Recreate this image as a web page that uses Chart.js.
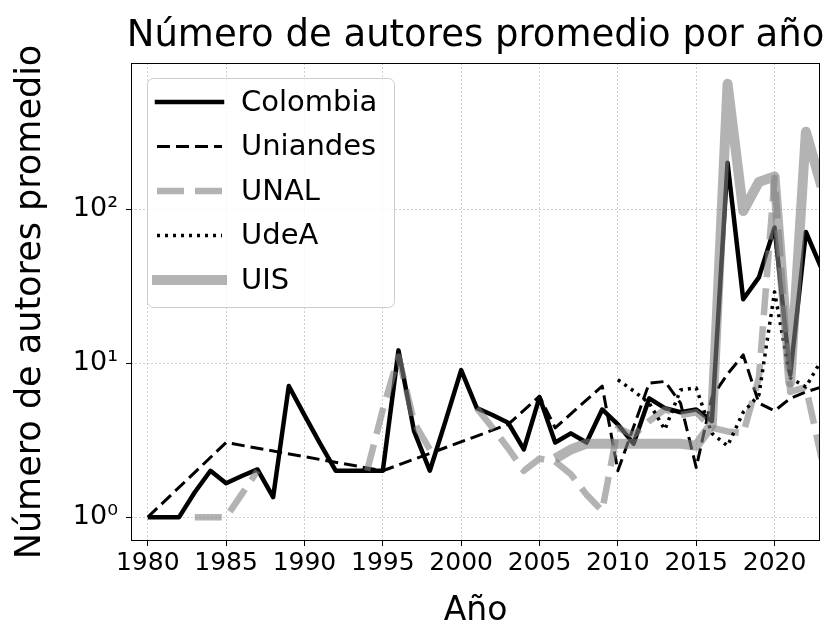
<!DOCTYPE html>
<html>
<head>
<meta charset="utf-8">
<script src="https://cdn.jsdelivr.net/npm/chart.js@4"></script>
<style>
  html, body { margin: 0; padding: 0; background: #fff; }
  #wrap { width: 823px; height: 633px; }
</style>
</head>
<body>
<div id="wrap"><canvas id="authorsChart" width="823" height="633"></canvas></div>
<script>
// Años (eje x)
const years = [1980, 1981, 1982, 1983, 1984, 1985, 1986, 1987, 1988, 1989,
               1990, 1991, 1992, 1993, 1994, 1995, 1996, 1997, 1998, 1999,
               2000, 2001, 2002, 2003, 2004, 2005, 2006, 2007, 2008, 2009,
               2010, 2011, 2012, 2013, 2014, 2015, 2016, 2017, 2018, 2019,
               2020, 2021, 2022, 2023];

// Número de autores promedio por año (null = sin dato)
const colombia = [1, 1, 1, 1.45, 2.0, 1.66, 1.85, 2.04, 1.35, 7.1,
                  4.6, 3.0, 2.0, 2.0, 2.0, 2.0, 12.1, 3.6, 2.0, 4.2,
                  9.0, 5.1, 4.6, 4.1, 2.75, 6.0, 3.05, 3.5, 3.05, 5.0,
                  4.0, 3.0, 5.9, 5.1, 4.8, 5.0, 4.2, 200, 26, 36,
                  76, 8.4, 71, 41];
const uniandes = [1, null, null, null, null, 3.05, null, null, null, null,
                  null, null, null, null, null, 2.0, null, null, null, null,
                  null, null, null, 4.0, null, 6.1, 3.8, null, null, 7.1,
                  2.0, null, 7.4, 7.6, 5.5, 2.1, 6.0, 8.5, 11.3, 5.5,
                  4.9, 5.9, 6.5, 7.0];
const unal = [null, null, null, 1, 1, 1, 1.41, 2.0, null, null,
              null, null, null, null, 2.0, 5.0, 11, 4.1, 2.75, null,
              null, 5.1, 3.8, 2.8, 2.0, 2.4, 2.3, 1.9, 1.4, 1.1,
              3.8, 3.4, 4.2, 5.0, 4.6, 4.8, 3.8, 3.6, 3.5, 8.0,
              160, 6.5, 7.0, 2.4];
const udea = [null, null, null, null, null, null, null, null, null, null,
              null, null, null, null, null, null, null, null, null, null,
              null, null, null, null, null, null, null, null, null, null,
              7.8, 6.6, 5.5, 3.7, 6.7, 6.9, 3.5, 2.9, 4.8, 6.2,
              29, 8.0, 7.0, 10.5];
const uis = [null, null, null, null, null, null, null, null, null, null,
             null, null, null, null, null, null, null, null, null, null,
             null, null, null, null, null, null, 2.4, 2.75, 3.0, 3.0,
             3.0, 3.0, 3.0, 3.0, 3.0, 2.9, 4.0, 650, 97, 150,
             163, 7.5, 318, 140];

const xTicks = [1980, 1985, 1990, 1995, 2000, 2005, 2010, 2015, 2020];
const yTicks = [1, 10, 100];
const yTickLabels = ["10⁰", "10¹", "10²"];

const chartTitle = "Número de autores promedio por año";
const FONT = "'DejaVu Sans', sans-serif";
const GRAY = "rgba(128, 128, 128, 0.6)";

const series = [
    { label: "Colombia", values: colombia, color: "#000000", width: 4.5, dash: [], gaps: true },
    { label: "Uniandes", values: uniandes, color: "#000000", width: 3, dash: [13, 6], gaps: true },
    { label: "UNAL", values: unal, color: GRAY, width: 6.5, dash: [27, 11], gaps: false },
    { label: "UdeA", values: udea, color: "#000000", width: 3.5, dash: [3, 5], gaps: true },
    { label: "UIS", values: uis, color: GRAY, width: 10, dash: [], gaps: true },
];

// Marco, título y leyenda dibujados a mano
const decorPlugin = {
    id: "decor",
    afterDraw(chart) {
        const { ctx, chartArea: a } = chart;
        ctx.save();
        ctx.strokeStyle = "#000";
        ctx.lineWidth = 1;
        ctx.setLineDash([]);
        ctx.strokeRect(a.left + 0.5, a.top + 0.5, a.right - a.left - 1, a.bottom - a.top - 1);

        ctx.fillStyle = "#000";
        ctx.font = "37px " + FONT;
        ctx.textAlign = "center";
        ctx.textBaseline = "alphabetic";
        ctx.fillText(chartTitle, (a.left + a.right) / 2, 46);

        // leyenda
        const lx = 147, ly = 78, lw = 247, lh = 229;
        ctx.beginPath();
        ctx.roundRect(lx + 0.5, ly + 0.5, lw, lh, 6);
        ctx.fillStyle = "rgba(255,255,255,0.8)";
        ctx.fill();
        ctx.strokeStyle = "#cccccc";
        ctx.lineWidth = 1;
        ctx.stroke();

        series.forEach((s, i) => {
            const y = 102 + i * 44.5;
            ctx.beginPath();
            ctx.setLineDash(s.dash);
            ctx.lineWidth = s.width;
            ctx.strokeStyle = s.color;
            ctx.lineCap = s.dash.length ? "butt" : "square";
            ctx.moveTo(157, y);
            ctx.lineTo(222, y);
            ctx.stroke();
            ctx.setLineDash([]);
            ctx.fillStyle = "#000";
            ctx.font = "29px " + FONT;
            ctx.textAlign = "left";
            ctx.textBaseline = "middle";
            ctx.fillText(s.label, 241, y + 1);
        });
        ctx.restore();
    },
};

const ctx = document.getElementById("authorsChart");
const chart = new Chart(ctx.getContext("2d"), {
    type: "line",
    data: {
        datasets: series.map((s, i) => ({
            label: s.label,
            data: years.map((yr, j) => ({ x: yr, y: s.values[j] })),
            borderColor: s.color,
            borderWidth: s.width,
            borderDash: s.dash,
            borderJoinStyle: "round",
            pointRadius: 0,
            tension: 0,
            fill: false,
            spanGaps: s.gaps,
            clip: 0,
            order: series.length - 1 - i,
        })),
    },
    options: {
        responsive: false,
        animation: false,
        devicePixelRatio: 1,
        layout: { padding: { top: 63, right: 3, left: 0, bottom: 0 } },
        plugins: {
            legend: { display: false },
            tooltip: { enabled: false },
            title: { display: false },
        },
        scales: {
            x: {
                type: "linear",
                min: 1978.93,
                max: 2022.9,
                afterBuildTicks: (scale) => { scale.ticks = xTicks.map((v) => ({ value: v })); },
                afterFit: (scale) => { scale.height = 92; },
                ticks: {
                    color: "#000",
                    font: { family: FONT, size: 25 },
                    padding: 2,
                    maxRotation: 0,
                    autoSkip: false,
                    callback: (v) => String(v),
                },
                grid: { color: "#cfcfcf", lineWidth: 1, tickColor: "#000", tickLength: 5 },
                border: { display: false, dash: [2, 2] },
                title: {
                    display: true,
                    text: "Año",
                    color: "#000",
                    font: { family: FONT, size: 33 },
                    padding: { top: 0, bottom: 2 },
                },
            },
            y: {
                type: "logarithmic",
                min: 0.732,
                max: 888,
                afterBuildTicks: (scale) => { scale.ticks = yTicks.map((v) => ({ value: v })); },
                afterFit: (scale) => { scale.width = 131; },
                ticks: {
                    color: "#000",
                    font: { family: FONT, size: 27 },
                    padding: 8,
                    autoSkip: false,
                    callback: (v) => yTickLabels[yTicks.indexOf(v)],
                },
                grid: { color: "#cfcfcf", lineWidth: 1, tickColor: "#000", tickLength: 5 },
                border: { display: false, dash: [2, 2] },
                title: {
                    display: true,
                    text: "Número de autores promedio",
                    color: "#000",
                    font: { family: FONT, size: 35 },
                    padding: { top: 10, bottom: 0 },
                },
            },
        },
    },
    plugins: [decorPlugin],
});
</script>
</body>
</html>
